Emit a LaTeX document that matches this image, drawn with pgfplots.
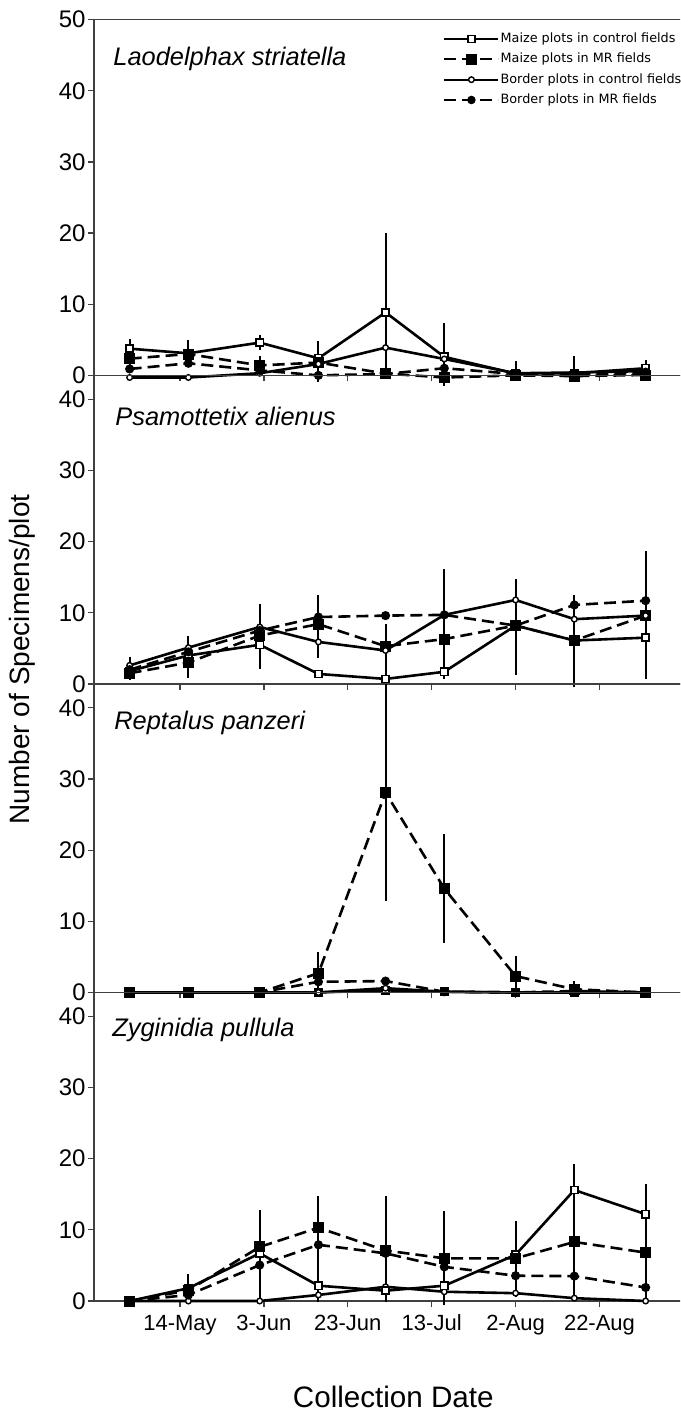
\documentclass[border=0pt]{standalone}
\usepackage{pgfplots}
\pgfplotsset{compat=1.18}
\usepackage{fontspec}
\setmainfont{Liberation Sans}
\newfontfamily\legendfont{DejaVu Sans}

\tikzset{species/.style={anchor=north west, inner sep=0pt, font=\fontsize{12.7}{12.7}\selectfont\itshape}}
\pgfplotsset{
 mc/.style={black, line width=1.3pt, mark=square*, mark size=1.8pt, mark options={solid, fill=white, line width=0.8pt}},
 mrm/.style={black, line width=1.3pt, dash pattern=on 6pt off 3pt, mark=square*, mark size=2.1pt, mark options={solid, fill=black}},
 bc/.style={black, line width=1.3pt, mark=*, mark size=1.4pt, mark options={solid, fill=white, line width=0.7pt}},
 mrb/.style={black, line width=1.3pt, dash pattern=on 6pt off 3pt, mark=*, mark size=1.6pt, mark options={solid, fill=black}},
 eb/.style={error bars/.cd, y dir=both, y explicit, error mark=none, error bar style={solid, line width=1pt, black}},
 panel/.style={
  x=2.0975pt, y=3.557pt, xmin=-0.5, xmax=140, ymin=0,
  anchor=south west, clip=false,
  axis line style={black!75, line width=0.7pt},
  xtick={20,40,60,80,100,120}, xticklabels={},
  ytick={0,10,20,30,40,50},
  tick align=outside, xtick pos=bottom, ytick pos=left,
  major tick length=3pt, tick style={black!75, line width=0.6pt},
  yticklabel style={font=\fontsize{12}{12}\selectfont, inner sep=1pt},
  /pgf/number format/assume math mode=true,
 },
}

\begin{document}
\begin{tikzpicture}
\path[use as bounding box, clip] (-47pt,-55.5pt) rectangle (293pt,650.5pt);

% ---------------- Panel 1: Laodelphax striatella
\begin{axis}[panel, at={(0pt,462.81pt)}, ymax=50,
  legend style={at={(axis cs:82.7,48.4)}, anchor=north west, draw=none, fill=none,
    font=\legendfont\fontsize{6.4}{7}\selectfont, inner sep=0pt, row sep=2.6pt,
    nodes={inner sep=0.6pt}},
  legend cell align=left,
  legend image code/.code={\draw[mark repeat=2,mark phase=2,line width=1pt,#1] plot coordinates {(0pt,0pt) (13.5pt,0pt) (27pt,0pt)};}]
\addplot[mc, eb] coordinates {
 (8,3.75) +- (0,1.35)
 (22,3.1) +- (0,1.9)
 (39,4.6) +- (0,1.1)
 (53,2.4) +- (0,2.4)
 (69,8.85) += (0,11.15) -= (0,8.9)
 (83,2.6) += (0,4.75) -= (0,4.15)
 (100,0.25) +- (0,0.2)
 (114,0.3) +- (0,0.2)
 (131,1.0) +- (0,1.2)
};
\addlegendentry{Maize plots in control fields}
\addplot[mrm, eb] coordinates {
 (8,2.35) +- (0,1.0)
 (22,3.0) +- (0,1.0)
 (39,1.4) +- (0,1.3)
 (53,1.8) +- (0,1.0)
 (69,0.25) +- (0,0)
 (83,-0.3) +- (0,0)
 (100,0.0) += (0,2.0) -= (0,0.3)
 (114,-0.1) += (0,2.8) -= (0,0.3)
 (131,0.05) +- (0,0)
};
\addlegendentry{Maize plots in MR fields}
\addplot[bc] coordinates {
 (8,-0.3) (22,-0.3) (39,0.3) (53,1.6) (69,3.9) (83,2.3) (100,0.3) (114,0.4) (131,0.6)
};
\addlegendentry{Border plots in control fields}
\addplot[mrb, eb] coordinates {
 (8,0.9) +- (0,0)
 (22,1.7) +- (0,0)
 (39,0.7) +- (0,0)
 (53,0.0) +- (0,1.0)
 (69,0.2) +- (0,0)
 (83,1.0) +- (0,0)
 (100,0.2) +- (0,0)
 (114,0.2) +- (0,0)
 (131,0.3) +- (0,0)
};
\addlegendentry{Border plots in MR fields}
\node[species] at (rel axis cs:0,1) [xshift=9.5pt, yshift=-13.5pt] {Laodelphax striatella};
\end{axis}

% ---------------- Panel 2: Psamottetix alienus
\begin{axis}[panel, at={(0pt,308.54pt)}, ymax=43.37]
\addplot[mc, eb] coordinates {
 (8,1.8) += (0,1.95) -= (0,1.3)
 (22,4.0) += (0,2.7) -= (0,3.2)
 (39,5.5) +- (0,0)
 (53,1.4) +- (0,0)
 (69,0.7) +- (0,0)
 (83,1.7) +- (0,0)
 (100,8.2) += (0,6.6) -= (0,6.9)
 (114,6.1) += (0,6.4) -= (0,6.6)
 (131,6.5) +- (0,0)
};
\addplot[mrm, eb] coordinates {
 (8,1.5) +- (0,0)
 (22,3.0) +- (0,0)
 (39,6.8) += (0,4.4) -= (0,4.7)
 (53,8.4) += (0,4.1) -= (0,4.7)
 (69,5.3) += (0,3.1) -= (0,5.3)
 (83,6.3) +- (0,0)
 (100,8.2) +- (0,0)
 (114,6.1) +- (0,0)
 (131,9.6) += (0,9.1) -= (0,8.9)
};
\addplot[bc, eb] coordinates {
 (8,2.6) +- (0,0)
 (22,5.1) +- (0,0)
 (39,8.0) +- (0,0)
 (53,5.9) +- (0,0)
 (69,4.7) +- (0,0)
 (83,9.7) += (0,6.4) -= (0,9.0)
 (100,11.8) +- (0,0)
 (114,9.1) +- (0,0)
 (131,9.6) +- (0,0)
};
\addplot[mrb] coordinates {
 (8,2.0) (22,4.5) (39,7.5) (53,9.4) (69,9.6) (83,9.7) (100,8.2) (114,11.1) (131,11.7)
};
\node[species] at (rel axis cs:0,1) [xshift=10.5pt, yshift=-15.5pt] {Psamottetix alienus};
\end{axis}

% ---------------- Panel 3: Reptalus panzeri
\begin{axis}[panel, at={(0pt,154.27pt)}, ymax=43.37]
\addplot[mc] coordinates {
 (8,0) (22,0) (39,0) (53,0) (69,0.3) (83,0.1) (100,0) (114,0) (131,0)
};
\addplot[bc] coordinates {
 (8,0) (22,0) (39,0) (53,0) (69,0.6) (83,0.1) (100,0) (114,0) (131,0)
};
\addplot[mrb] coordinates {
 (8,0) (22,0) (39,0) (53,1.5) (69,1.6) (83,0.1) (100,0) (114,0.2) (131,0)
};
\addplot[mrm, eb] coordinates {
 (8,0) +- (0,0)
 (22,0) +- (0,0)
 (39,0) +- (0,0)
 (53,2.7) +- (0,3.0)
 (69,28.1) +- (0,15.3)
 (83,14.6) +- (0,7.65)
 (100,2.3) += (0,2.85) -= (0,2.3)
 (114,0.45) += (0,1.15) -= (0,0.45)
 (131,0) +- (0,0)
};
\node[species] at (rel axis cs:0,1) [xshift=10pt, yshift=-13.3pt] {Reptalus panzeri};
\end{axis}

% ---------------- Panel 4: Zyginidia pullula
\begin{axis}[panel, at={(0pt,0pt)}, ymax=43.37,
  xticklabels={14-May,3-Jun,23-Jun,13-Jul,2-Aug,22-Aug},
  xticklabel style={font=\fontsize{11}{11}\selectfont, text height=8pt, text depth=2.5pt},
  xlabel={Collection Date},
  xlabel style={at={(axis description cs:0.5,0)}, anchor=base, yshift=-53.4pt, xshift=2.3pt, font=\fontsize{14.8}{14.8}\selectfont}]
\addplot[bc] coordinates {
 (8,0) (22,0) (39,0) (53,0.85) (69,2.0) (83,1.3) (100,1.1) (114,0.4) (131,0)
};
\addplot[mrb] coordinates {
 (8,0) (22,0.85) (39,5.05) (53,7.9) (69,6.7) (83,4.8) (100,3.55) (114,3.5) (131,1.9)
};
\addplot[mc, eb] coordinates {
 (8,0) +- (0,0)
 (22,1.8) +- (0,2.0)
 (39,6.7) +- (0,0)
 (53,2.15) +- (0,0)
 (69,1.45) +- (0,0)
 (83,2.15) +- (0,0)
 (100,6.5) +- (0,0)
 (114,15.6) += (0,3.6) -= (0,15.5)
 (131,12.2) += (0,4.3) -= (0,12.4)
};
\addplot[mrm, eb] coordinates {
 (8,0) +- (0,0)
 (22,1.5) +- (0,0)
 (39,7.6) += (0,5.2) -= (0,7.8)
 (53,10.3) += (0,4.45) -= (0,10.5)
 (69,7.1) += (0,7.65) -= (0,7.3)
 (83,6.0) += (0,6.7) -= (0,6.55)
 (100,6.0) += (0,5.3) -= (0,5.4)
 (114,8.3) +- (0,0)
 (131,6.8) +- (0,0)
};
\node[species] at (rel axis cs:0,1) [xshift=9pt, yshift=-12.6pt] {Zyginidia pullula};
\end{axis}

\node[rotate=90, font=\fontsize{14}{14}\selectfont] at (-36pt,320.75pt) {Number of Specimens/plot};
\end{tikzpicture}
\end{document}
